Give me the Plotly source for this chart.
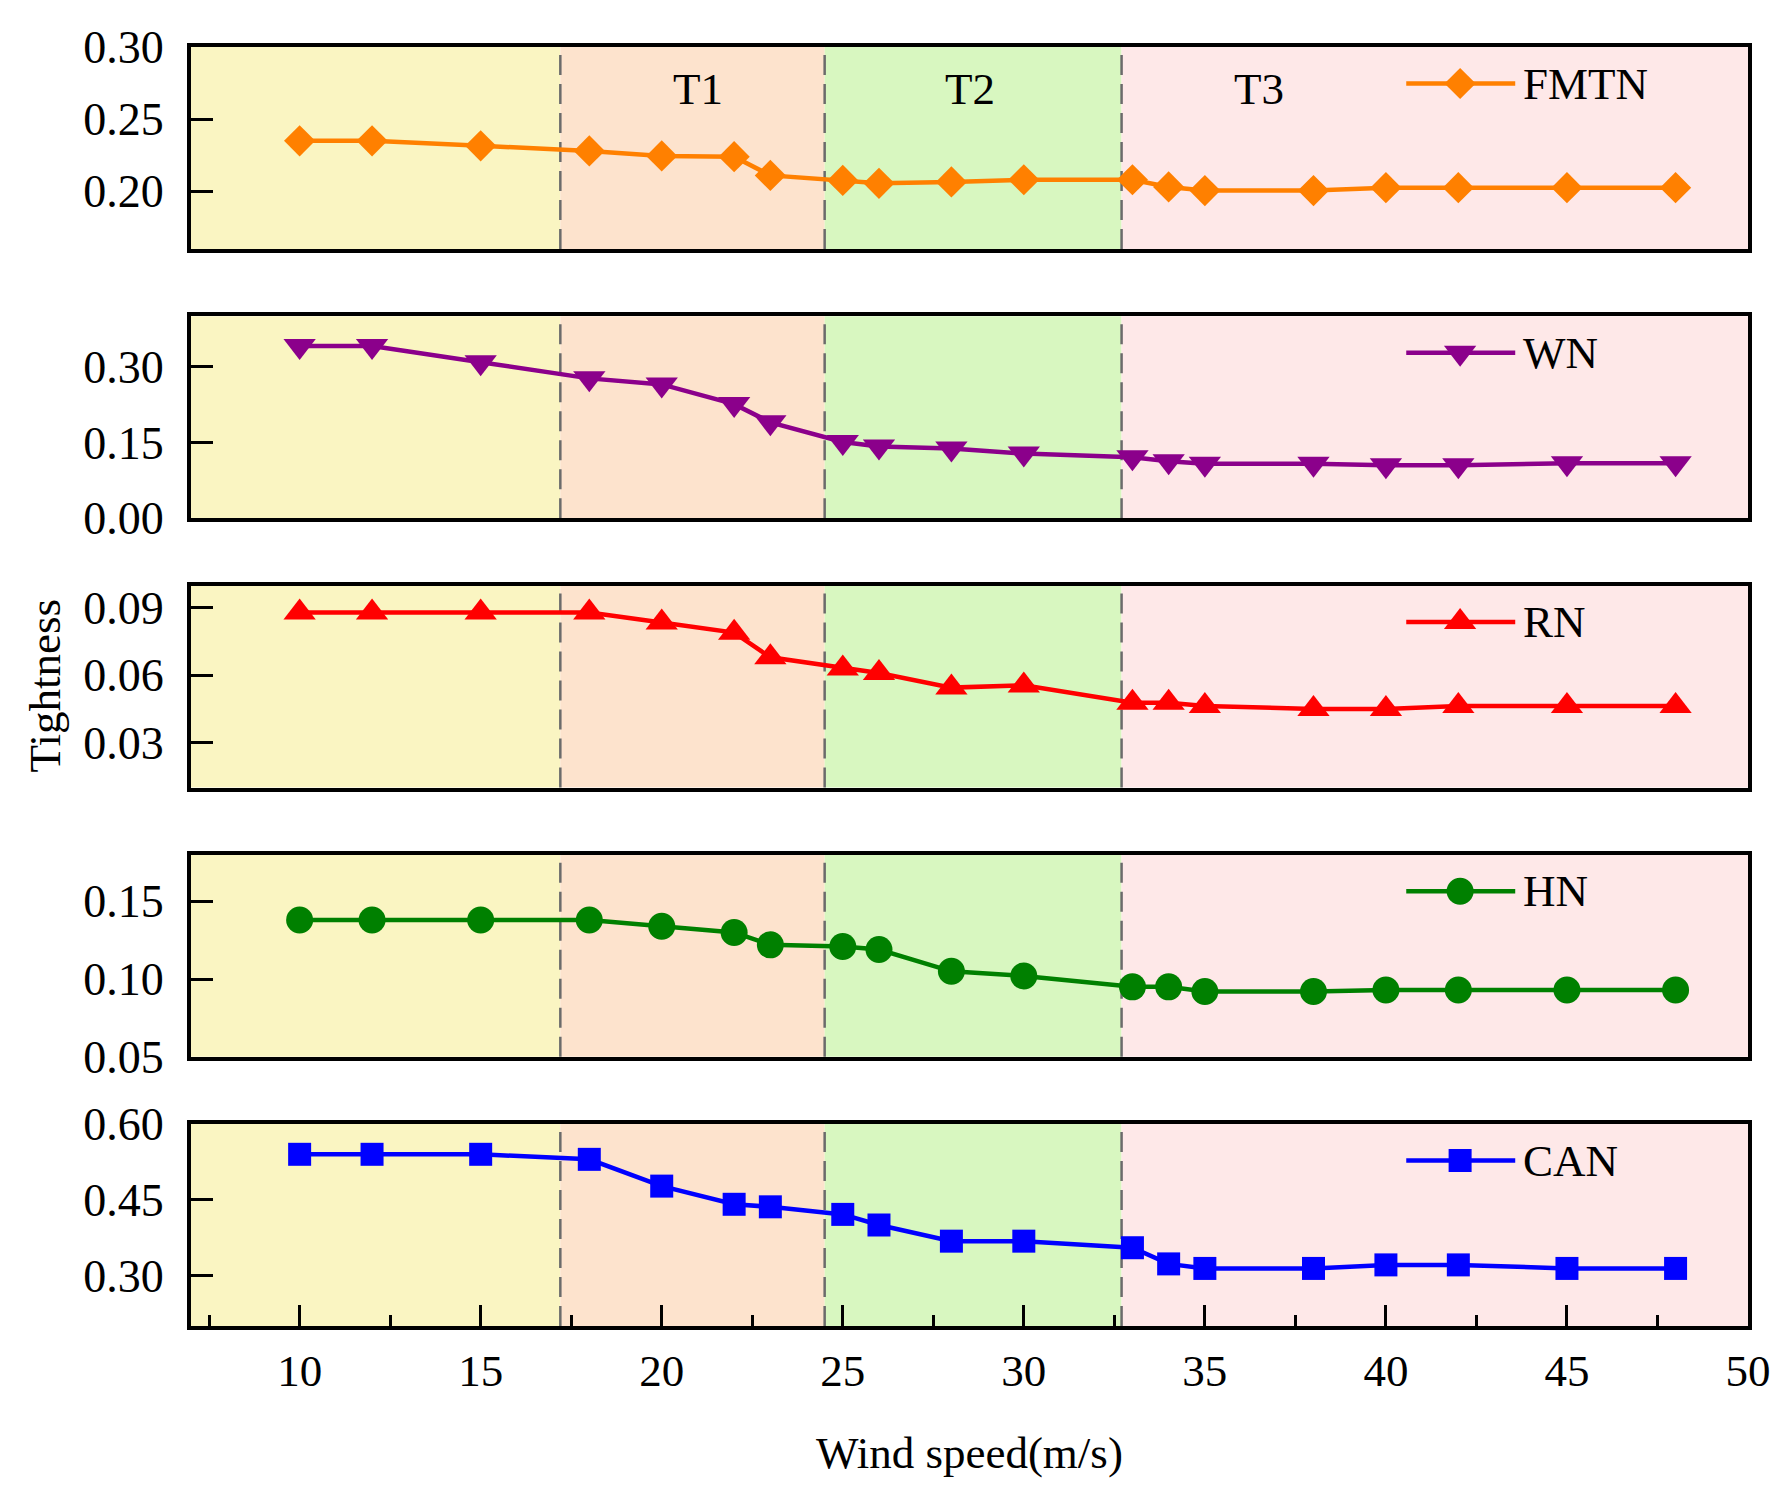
import plotly.graph_objects as go

# ---------------- data ----------------
wind_speed = [10, 12, 15, 18, 20, 22, 23, 25, 26, 28, 30, 33, 34, 35, 38, 40, 42, 45, 48]

fmtn = [0.235, 0.235, 0.2315, 0.228, 0.2245, 0.224, 0.211, 0.2075, 0.2055, 0.2065,
        0.208, 0.208, 0.203, 0.2005, 0.2005, 0.2025, 0.2025, 0.2025, 0.2025]
wn = [0.341, 0.341, 0.309, 0.277, 0.265, 0.226, 0.19, 0.151, 0.142, 0.138,
      0.128, 0.121, 0.113, 0.108, 0.108, 0.105, 0.105, 0.109, 0.109]
rn = [0.088, 0.088, 0.088, 0.088, 0.0835, 0.079, 0.068, 0.063, 0.061, 0.0545,
      0.0555, 0.0478, 0.0478, 0.0463, 0.045, 0.045, 0.0463, 0.0463, 0.0463]
hn = [0.138, 0.138, 0.138, 0.138, 0.134, 0.130, 0.122, 0.121, 0.119, 0.105,
      0.102, 0.095, 0.095, 0.092, 0.092, 0.093, 0.093, 0.093, 0.093]
can = [0.54, 0.54, 0.54, 0.53, 0.477, 0.441, 0.436, 0.421, 0.40, 0.368,
       0.368, 0.355, 0.323, 0.314, 0.314, 0.321, 0.321, 0.314, 0.314]

series_names = ["FMTN", "WN", "RN", "HN", "CAN"]
series_values = [fmtn, wn, rn, hn, can]
series_colors = ["#FF8000", "#8B008B", "#FF0000", "#008000", "#0000FF"]
series_symbols = ["diamond", "triangle-down", "triangle-up", "circle", "square"]
series_sizes = [24, 28, 28, 27, 23]

y_ranges = [[0.16, 0.30], [0.0, 0.40], [0.01, 0.10], [0.05, 0.18], [0.20, 0.60]]
y_ticks = [[0.20, 0.25, 0.30], [0.00, 0.15, 0.30], [0.03, 0.06, 0.09],
           [0.05, 0.10, 0.15], [0.30, 0.45, 0.60]]

x_range = [7, 50]
x_ticks = [10, 15, 20, 25, 30, 35, 40, 45, 50]

# wind regimes (boundaries and background colours)
region_edges = [7, 17.2, 24.5, 32.7, 50]
region_colors = ["#FAF5C2", "#FDE3CD", "#D8F7C0", "#FEE8E8"]
region_labels = ["T1", "T2", "T3"]
region_label_x = [21.0, 28.5, 36.5]

# ---------------- layout constants ----------------
W, H = 1774, 1486          # page has an 8px body margin
ML, MT = 183, 39
PLOT_W, PLOT_H = 1557, 1279
MR = W - ML - PLOT_W
MB = H - MT - PLOT_H
panel_h = 202 / PLOT_H
gap_h = (1.0 - 5 * panel_h) / 4
FONT = "Liberation Serif"

# legend key placement (fractions of the plot area)
LEG_LINE_X0, LEG_MARK_X, LEG_LINE_X1, LEG_TEXT_X = 0.7805, 0.8151, 0.8505, 0.8545
LEG_DY = 36.5  # px below panel top

fig = go.Figure()

domains = []
for i in range(5):
    top = 1.0 - i * (panel_h + gap_h)
    domains.append([top - panel_h, top])

shapes = []
annotations = []


def xfrac(f):
    return x_range[0] + f * (x_range[1] - x_range[0])


for i in range(5):
    n = i + 1
    xa = "x" if n == 1 else f"x{n}"
    ya = "y" if n == 1 else f"y{n}"

    # backgrounds
    for k in range(4):
        shapes.append(dict(type="rect", xref=xa, yref=f"{ya} domain",
                           x0=region_edges[k], x1=region_edges[k + 1], y0=0, y1=1,
                           fillcolor=region_colors[k], line=dict(width=0),
                           layer="below"))
    for k in range(1, 4):
        shapes.append(dict(type="line", xref=xa, yref=f"{ya} domain",
                           x0=region_edges[k], x1=region_edges[k], y0=0, y1=1,
                           line=dict(color="#6B6B6B", width=2.5, dash="20px,9px"),
                           layer="below"))

    fig.add_trace(go.Scatter(
        x=wind_speed, y=series_values[i], mode="lines+markers",
        name=series_names[i], xaxis=xa, yaxis=ya, showlegend=False,
        line=dict(color=series_colors[i], width=4.5),
        marker=dict(symbol=series_symbols[i], size=series_sizes[i],
                    color=series_colors[i], line=dict(width=0)),
    ))

    # custom legend key in the same panel
    y0, y1 = y_ranges[i]
    yfrac = 1 - LEG_DY / 202
    leg_y = y0 + yfrac * (y1 - y0)
    fig.add_trace(go.Scatter(
        x=[xfrac(LEG_LINE_X0), xfrac(LEG_MARK_X), xfrac(LEG_LINE_X1)],
        y=[leg_y, leg_y, leg_y],
        mode="lines", xaxis=xa, yaxis=ya, showlegend=False, hoverinfo="skip",
        line=dict(color=series_colors[i], width=4.5),
    ))
    fig.add_trace(go.Scatter(
        x=[xfrac(LEG_MARK_X)], y=[leg_y],
        mode="markers", xaxis=xa, yaxis=ya, showlegend=False, hoverinfo="skip",
        marker=dict(symbol=series_symbols[i], size=series_sizes[i],
                    color=series_colors[i], line=dict(width=0)),
    ))
    annotations.append(dict(xref=f"{xa} domain", yref=f"{ya} domain",
                            x=LEG_TEXT_X, y=yfrac,
                            xanchor="left", yanchor="middle", showarrow=False,
                            text=series_names[i],
                            font=dict(family=FONT, size=45, color="black")))

    xkey = "xaxis" if n == 1 else f"xaxis{n}"
    ykey = "yaxis" if n == 1 else f"yaxis{n}"
    xdict = dict(domain=[0, 1], range=x_range, anchor=ya, showgrid=False,
                 zeroline=False, showline=True, linecolor="black", linewidth=4,
                 mirror=True)
    if n > 1:
        xdict["matches"] = "x"
    if n == 5:
        xdict.update(ticks="inside", ticklen=21, tickwidth=3, tickcolor="black",
                     tickvals=x_ticks, showticklabels=True,
                     tickfont=dict(family=FONT, size=45, color="black"),
                     ticklabelstandoff=2,
                     minor=dict(ticks="inside", ticklen=11, tickwidth=3,
                                tickcolor="black", dtick=2.5, tick0=0))
    else:
        xdict.update(ticks="", showticklabels=False)
    fig.update_layout({xkey: xdict})

    fig.update_layout({ykey: dict(
        domain=domains[i], range=y_ranges[i], anchor=xa, showgrid=False,
        zeroline=False, showline=True, linecolor="black", linewidth=4, mirror=True,
        ticks="inside", ticklen=22, tickwidth=3, tickcolor="black",
        tickvals=y_ticks[i], tickformat=".2f",
        tickfont=dict(family=FONT, size=46, color="black"),
        ticklabelstandoff=14,
    )})

# regime labels in the top panel
for lab, lx in zip(region_labels, region_label_x):
    annotations.append(dict(xref="x", yref="y domain", x=lx, y=1 - 42 / 202,
                            xanchor="center", yanchor="middle", showarrow=False,
                            text=lab, font=dict(family=FONT, size=45, color="black")))

# axis titles
annotations.append(dict(xref="paper", yref="paper", x=0, y=0.5, xshift=-147,
                        xanchor="center", yanchor="middle", textangle=-90,
                        showarrow=False, text="Tightness",
                        font=dict(family=FONT, size=45, color="black")))
annotations.append(dict(xref="paper", yref="paper", x=0.5, y=0, yshift=-127,
                        xanchor="center", yanchor="middle", showarrow=False,
                        text="Wind speed(m/s)",
                        font=dict(family=FONT, size=45, color="black")))

fig.update_layout(
    width=W, height=H,
    margin=dict(l=ML, r=MR, t=MT, b=MB),
    paper_bgcolor="white", plot_bgcolor="rgba(0,0,0,0)",
    shapes=shapes, annotations=annotations, showlegend=False,
    font=dict(family=FONT, color="black"),
)

fig.write_html("out.html")
